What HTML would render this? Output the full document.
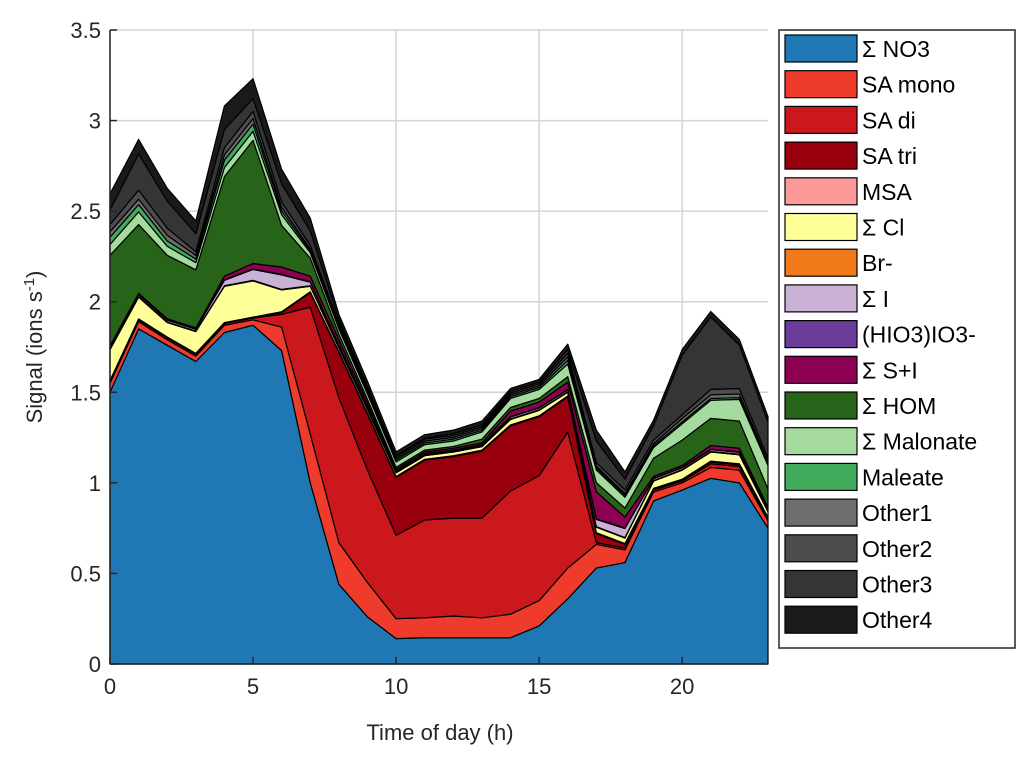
<!DOCTYPE html>
<html><head><meta charset="utf-8"><style>
html,body{margin:0;padding:0;background:#fff;}
svg{display:block;font-family:"Liberation Sans",Arial,sans-serif;}
</style></head><body>
<svg id="chart" width="1033" height="765" viewBox="0 0 1033 765" xmlns="http://www.w3.org/2000/svg">
<g id="grid"></g>
<g id="areas"></g>
<g id="axes"></g>
<text x="440" y="740" font-size="22" text-anchor="middle" fill="#262626">Time of day (h)</text>
<text transform="translate(42,347) rotate(-90)" font-size="22" text-anchor="middle" fill="#262626">Signal (ions s<tspan dy="-8" font-size="15">-1</tspan><tspan dy="8">)</tspan></text>
<g id="legend"></g>
</svg>
<script>
const hours = [0,1,2,3,4,5,6,7,8,9,10,11,12,13,14,15,16,17,18,19,20,21,22,23];
const seriesNames = ["Σ NO3","SA mono","SA di","SA tri","MSA","Σ Cl","Br-","Σ I","(HIO3)IO3-","Σ S+I","Σ HOM","Σ Malonate","Maleate","Other1","Other2","Other3","Other4"];
const no3 = [1.50,1.85,1.76,1.67,1.83,1.87,1.73,1.0,0.44,0.26,0.14,0.145,0.145,0.145,0.145,0.21,0.36,0.53,0.56,0.90,0.96,1.025,1.0,0.75];
const saMono = [0.05,0.04,0.03,0.03,0.04,0.03,0.13,0.27,0.23,0.19,0.11,0.11,0.12,0.11,0.13,0.14,0.17,0.13,0.07,0.05,0.04,0.06,0.07,0.04];
const saDi = [0.01,0.01,0.01,0.01,0.01,0.01,0.07,0.70,0.80,0.62,0.46,0.54,0.54,0.55,0.68,0.69,0.75,0.01,0.01,0.01,0.01,0.02,0.02,0.01];
const saTri = [0,0,0,0,0,0,0.01,0.08,0.25,0.31,0.32,0.33,0.34,0.37,0.36,0.325,0.195,0.05,0.02,0.005,0.005,0.01,0.01,0.005];
const msa = [0.005,0.005,0.005,0.005,0.005,0.005,0.005,0.005,0.005,0.005,0.005,0.005,0.005,0.005,0.005,0.005,0.005,0.005,0.005,0.005,0.005,0.005,0.005,0.005];
const cl = [0.17,0.12,0.08,0.12,0.2,0.2,0.12,0.03,0.02,0.02,0.02,0.02,0.02,0.02,0.03,0.03,0.02,0.03,0.03,0.04,0.05,0.05,0.05,0.03];
const br = [0.003,0.003,0.003,0.003,0.003,0.003,0.003,0.003,0.003,0.003,0.003,0.003,0.003,0.003,0.003,0.003,0.003,0.003,0.003,0.003,0.003,0.003,0.003,0.003];
const iodine = [0.01,0.01,0.01,0.01,0.03,0.06,0.08,0.02,0.01,0.01,0.005,0.005,0.005,0.005,0.01,0.01,0.01,0.04,0.05,0.01,0.01,0.01,0.01,0.01];
const hio3 = [0.003,0.003,0.003,0.003,0.003,0.003,0.003,0.003,0.003,0.003,0.003,0.003,0.003,0.003,0.003,0.003,0.003,0.003,0.003,0.003,0.003,0.003,0.003,0.003];
const sI = [0.005,0.005,0.005,0.005,0.02,0.03,0.04,0.03,0.03,0.02,0.01,0.01,0.01,0.01,0.03,0.03,0.04,0.15,0.06,0.01,0.01,0.02,0.02,0.01];
const hom = [0.5,0.38,0.35,0.32,0.55,0.68,0.23,0.1,0.03,0.02,0.01,0.01,0.01,0.02,0.02,0.02,0.03,0.05,0.05,0.1,0.14,0.15,0.15,0.1];
const malonate = [0.06,0.07,0.05,0.04,0.05,0.05,0.06,0.03,0.03,0.03,0.03,0.03,0.03,0.04,0.05,0.05,0.07,0.07,0.06,0.06,0.09,0.1,0.12,0.13];
const maleate = [0.04,0.04,0.03,0.02,0.04,0.04,0.02,0.01,0.01,0.01,0.01,0.01,0.01,0.01,0.01,0.01,0.02,0.01,0.01,0.01,0.01,0.01,0.01,0.01];
const other1 = [0.03,0.03,0.03,0.02,0.03,0.03,0.02,0.01,0.01,0.01,0.01,0.01,0.01,0.01,0.01,0.01,0.02,0.01,0.01,0.01,0.02,0.02,0.02,0.01];
const other2 = [0.04,0.05,0.04,0.02,0.04,0.04,0.03,0.02,0.01,0.01,0.01,0.01,0.01,0.01,0.01,0.01,0.02,0.02,0.02,0.02,0.02,0.03,0.03,0.02];
const other3 = [0.08,0.2,0.15,0.1,0.1,0.07,0.1,0.08,0.02,0.01,0.005,0.005,0.01,0.01,0.01,0.01,0.02,0.12,0.06,0.08,0.33,0.40,0.24,0.2];
const other4 = [0.09,0.08,0.07,0.07,0.13,0.11,0.08,0.07,0.03,0.03,0.02,0.02,0.02,0.02,0.015,0.015,0.03,0.06,0.04,0.03,0.03,0.03,0.03,0.03];
const xTicks = [0,5,10,15,20];
const yTicks = [0,0.5,1,1.5,2,2.5,3,3.5];

const seriesData = [no3,saMono,saDi,saTri,msa,cl,br,iodine,hio3,sI,hom,malonate,maleate,other1,other2,other3,other4];
const colors = ["#1f77b4","#ef3b2c","#cb181d","#99000d","#fb9a99","#ffff99","#f07a1a","#cab2d6","#6a3d9a","#8e0152","#276419","#a6dba0","#41ab5d","#6e6e6e","#4d4d4d","#353535","#1a1a1a"];
const NS = "http://www.w3.org/2000/svg";
const L=110,R=768,T=30,B=664;
const xS = h => L + (h-0)/(23-0)*(R-L);
const yS = v => B - v/3.5*(B-T);
function mk(tag, attrs, parent){const e=document.createElementNS(NS,tag);for(const k in attrs)e.setAttribute(k,attrs[k]);parent.appendChild(e);return e;}

const grid=document.getElementById('grid');
xTicks.forEach(t=>{const l=mk('line',{x1:xS(t),x2:xS(t),y1:T,y2:B,stroke:'#d4d4d4','stroke-width':1.5},grid);

});
yTicks.forEach(t=>{const l=mk('line',{x1:L,x2:R,y1:yS(t),y2:yS(t),stroke:'#d4d4d4','stroke-width':1.5},grid);

});

const areas=document.getElementById('areas');
let base = hours.map(()=>0);
seriesData.forEach((arr,si)=>{
  const top = base.map((b,i)=>b+arr[i]);
  let d = hours.map((h,i)=>(i?'L':'M')+xS(h).toFixed(2)+','+yS(top[i]).toFixed(2)).join(' ');
  for(let i=hours.length-1;i>=0;i--) d+=' L'+xS(hours[i]).toFixed(2)+','+yS(base[i]).toFixed(2);
  d+=' Z';
  const p=mk('path',{d:d,fill:colors[si],stroke:'#000','stroke-width':1.2,'stroke-linejoin':'round'},areas);
  
  
  base = top;
});

const axes=document.getElementById('axes');
const ya=mk('line',{x1:L,x2:L,y1:T,y2:B,stroke:'#262626','stroke-width':1.5},axes);


const xa=mk('line',{x1:L,x2:R,y1:B,y2:B,stroke:'#262626','stroke-width':1.5},axes);


xTicks.forEach(t=>{
  mk('line',{x1:xS(t),x2:xS(t),y1:B,y2:B-7,stroke:'#262626','stroke-width':1.5},axes);
  const tx=mk('text',{x:xS(t),y:B+30,'font-size':22,'text-anchor':'middle',fill:'#262626'},axes);
  tx.textContent=t;
  
  
});
yTicks.forEach(t=>{
  mk('line',{x1:L,x2:L+7,y1:yS(t),y2:yS(t),stroke:'#262626','stroke-width':1.5},axes);
  const tx=mk('text',{x:L-9,y:yS(t)+8,'font-size':22,'text-anchor':'end',fill:'#262626'},axes);
  tx.textContent=t;
  
  
});

const lg=document.getElementById('legend');
const box=mk('rect',{x:779,y:30,width:236,height:618,fill:'#fff',stroke:'#262626','stroke-width':1.5},lg);


seriesNames.forEach((n,i)=>{
  const y=35+i*35.7;
  const g=mk('g',{},lg);
  
  
  mk('rect',{x:785,y:y,width:72,height:27,fill:colors[i],stroke:'#000','stroke-width':1.2},g);
  const tx=mk('text',{x:862,y:y+22,'font-size':23,fill:'#000'},g);
  tx.textContent=n;
});
</script>
</body></html>
